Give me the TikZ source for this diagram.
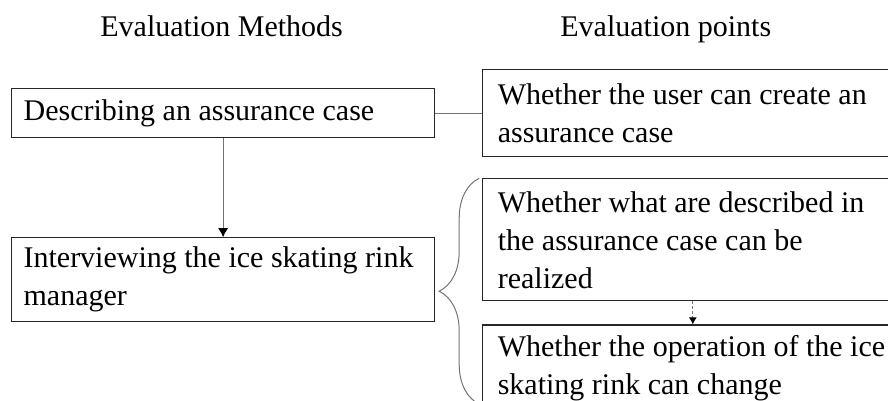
\documentclass[tikz,border=0pt]{standalone}
\usepackage{fontspec}
\setmainfont{Liberation Serif}
\usepackage{tikz}
\usetikzlibrary{positioning}
\usetikzlibrary{arrows.meta}
\usetikzlibrary{decorations.pathreplacing}

\begin{document}
\begin{tikzpicture}[x=0.5pt, y=-0.5pt, font=\fontsize{15}{19}\selectfont,
        methodbox/.style={draw=black!85, line width=0.6pt, align=flush left, inner xsep=6pt, text width=199.5pt, minimum height=24.5pt},
        pointbox/.style={draw=black!85, line width=0.6pt, align=flush left, inner xsep=7.5pt, text width=205pt, minimum height=43.5pt},
        link/.style={draw=black!55, line width=0.5pt}]
            \useasboundingbox (0,0) rectangle (888,401);
            \clip (0,0) rectangle (888,401);

            \node [anchor=base west, inner xsep=0pt] (M) at (100,37) {Evaluation Methods};
            \node [anchor=base west, inner xsep=0pt] (P) at (560,37) {Evaluation points};

            \node [methodbox, anchor=north west] (A) at (11,88) {Describing an assurance case};
            \node [methodbox, minimum height=42pt] (C) [below=49.5pt of A] {Interviewing the ice skating rink\\manager};

            \node [pointbox, anchor=west] (B1) [right=23.5pt of A] {Whether the user can create an\\assurance case};
            \node [pointbox, minimum height=61pt] (B2) [below=10.5pt of B1] {Whether what are described in\\the assurance case can be\\realized};
            \node [pointbox] (B3) [below=11.5pt of B2] {Whether the operation of the ice\\skating rink can change};

            \coordinate (braceTop) at ([xshift=-1.5pt]B2.north west);
            \coordinate (braceBot) at ([yshift=-113pt]braceTop);

            \draw [link] (A) -- (A -| B1.west);
            \draw [link, -{Latex[black, length=4.5pt, width=5pt]}] (A) -- (C);
            \draw [link, dash pattern=on 1.5pt off 1pt, -{Latex[black, length=3.5pt, width=4pt]}] ([xshift=-5pt]B2.south) -- ([xshift=-5pt]B3.north);
            \draw [link, decorate, decoration={brace, amplitude=20pt}] (braceBot) -- (braceTop);
        \end{tikzpicture}
\end{document}
